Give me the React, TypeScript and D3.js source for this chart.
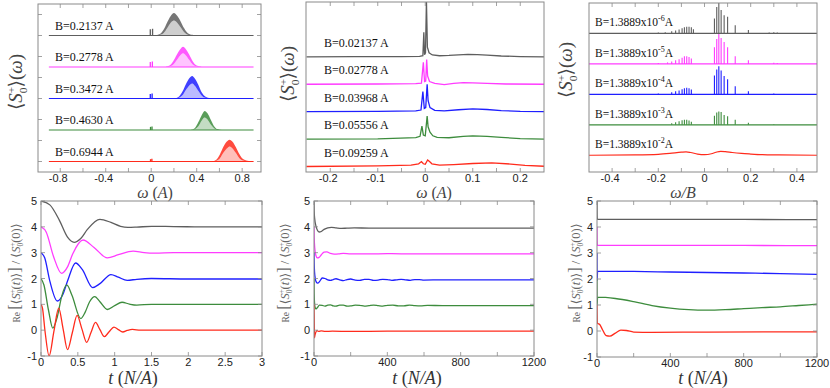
import * as d3 from "d3";

const COLORS = ["#5e5e5e", "#ff3cff", "#1f1fff", "#3d8c3d", "#ff2b1c"];
const FRAME = "#8a8a8a";
const SANS = "'Liberation Sans', Arial, sans-serif";
const SERIF = "'Liberation Serif', 'DejaVu Serif', serif";

// ---- top left: spectra, B of order A
const labelsA = ["B=0.2137 A", "B=0.2778 A", "B=0.3472 A", "B=0.4630 A", "B=0.6944 A"];
const offsetsA = [6, 4.5, 3, 1.5, 0];
const spanA = [-0.9, 0.9];
const spikesA = [
  [[-0.008, 0.3], [0.012, 0.32]],
  [[-0.008, 0.24], [0.01, 0.26]],
  [[-0.008, 0.22], [0.008, 0.24]],
  [[-0.006, 0.15], [0.007, 0.17]],
  [[-0.006, 0.11], [0.006, 0.13]],
];
// [omega, lower envelope, upper envelope]
const bandsA = [
  [[0.04, 0, 0.01], [0.08, 0.03, 0.08], [0.11, 0.12, 0.28], [0.14, 0.35, 0.62], [0.17, 0.6, 0.92], [0.2, 0.72, 1.07], [0.23, 0.6, 0.93], [0.26, 0.38, 0.66], [0.29, 0.15, 0.34], [0.32, 0.04, 0.12], [0.36, 0, 0.03], [0.41, 0, 0]],
  [[0.13, 0, 0.01], [0.165, 0.03, 0.08], [0.195, 0.12, 0.28], [0.225, 0.33, 0.58], [0.255, 0.55, 0.84], [0.28, 0.66, 0.96], [0.305, 0.55, 0.85], [0.335, 0.33, 0.58], [0.365, 0.12, 0.27], [0.395, 0.03, 0.08], [0.44, 0, 0.01]],
  [[0.21, 0, 0.01], [0.245, 0.04, 0.1], [0.275, 0.15, 0.33], [0.305, 0.4, 0.68], [0.335, 0.62, 0.96], [0.36, 0.72, 1.07], [0.385, 0.6, 0.94], [0.415, 0.36, 0.64], [0.445, 0.13, 0.28], [0.475, 0.03, 0.09], [0.52, 0, 0.01]],
  [[0.35, 0, 0.01], [0.385, 0.04, 0.1], [0.415, 0.18, 0.38], [0.445, 0.45, 0.72], [0.47, 0.6, 0.91], [0.495, 0.5, 0.8], [0.525, 0.25, 0.48], [0.555, 0.07, 0.17], [0.585, 0, 0.03], [0.62, 0, 0]],
  [[0.54, 0, 0.01], [0.575, 0.04, 0.1], [0.605, 0.16, 0.35], [0.635, 0.42, 0.7], [0.665, 0.62, 0.95], [0.69, 0.72, 1.04], [0.715, 0.62, 0.94], [0.745, 0.4, 0.68], [0.775, 0.16, 0.36], [0.805, 0.05, 0.13], [0.845, 0.01, 0.04], [0.9, 0, 0.01]],
];
const xTicksA = [-0.8, -0.4, 0, 0.4, 0.8];
const xTickLabelsA = ["-0.8", "-0.4", "0", "0.4", "0.8"];
const xMinorA = [-0.8, -0.6, -0.4, -0.2, 0, 0.2, 0.4, 0.6, 0.8];
const yMinorA = [0, 1, 2, 3, 4, 5, 6, 7];

// ---- top middle: spectra, small B
const labelsB = ["B=0.02137 A", "B=0.02778 A", "B=0.03968 A", "B=0.05556 A", "B=0.09259 A"];
const offsetsB = [4, 3, 2, 1, 0];
const linesB = [
  [[-0.25, 0], [-0.15, 0.005], [-0.05, 0.01], [-0.012, 0.02], [-0.005, 0.04], [-0.003, 0.9], [-0.0015, 0.08], [0.0005, 0.15], [0.0025, 2.05], [0.0045, 0.35], [0.008, 0.15], [0.015, 0.07], [0.03, 0.04], [0.05, 0.05], [0.07, 0.07], [0.09, 0.09], [0.11, 0.08], [0.13, 0.06], [0.16, 0.03], [0.2, 0.01], [0.25, 0]],
  [[-0.25, 0], [-0.1, 0.01], [-0.02, 0.02], [-0.008, 0.04], [-0.004, 0.8], [-0.0015, 0.1], [0.001, 0.12], [0.003, 0.9], [0.005, 0.3], [0.009, 0.1], [0.02, 0.03], [0.04, -0.01], [0.06, 0.03], [0.08, 0.06], [0.1, 0.05], [0.13, 0.03], [0.17, 0.01], [0.25, 0]],
  [[-0.25, 0], [-0.1, 0.01], [-0.02, 0.03], [-0.009, 0.06], [-0.005, 0.73], [-0.002, 0.12], [0.001, 0.15], [0.004, 1.0], [0.006, 0.4], [0.01, 0.15], [0.02, 0.05], [0.04, 0.03], [0.07, 0.07], [0.1, 0.1], [0.13, 0.08], [0.16, 0.04], [0.2, 0.01], [0.25, 0]],
  [[-0.25, 0], [-0.1, 0.01], [-0.02, 0.05], [-0.011, 0.1], [-0.007, 0.47], [-0.004, 0.15], [0.0, 0.12], [0.004, 0.84], [0.006, 0.45], [0.01, 0.25], [0.016, 0.12], [0.025, 0.06], [0.05, 0.05], [0.08, 0.1], [0.1, 0.12], [0.13, 0.1], [0.16, 0.06], [0.2, 0.02], [0.25, 0]],
  [[-0.25, 0], [-0.1, 0.02], [-0.03, 0.05], [-0.014, 0.1], [-0.008, 0.18], [-0.004, 0.1], [0.0, 0.08], [0.005, 0.24], [0.009, 0.18], [0.014, 0.1], [0.03, 0.05], [0.06, 0.07], [0.1, 0.11], [0.14, 0.13], [0.18, 0.09], [0.21, 0.04], [0.25, 0.01]],
];
const xTicksB = [-0.2, -0.1, 0, 0.1, 0.2];
const xTickLabelsB = ["-0.2", "-0.1", "0", "0.1", "0.2"];
const xMinorB = [-0.2, -0.15, -0.1, -0.05, 0, 0.05, 0.1, 0.15, 0.2];

// ---- top right: spectra vs omega/B, tiny B
const labelsC = ["1.3889x10", "1.3889x10", "1.3889x10", "1.3889x10", "1.3889x10"];
const expC = ["-6", "-5", "-4", "-3", "-2"];
const offsetsC = [4, 3, 2, 1, 0];
const floorC = [
  [[-0.5, 0], [0.5, 0]],
  [[-0.5, 0], [0.5, 0]],
  [[-0.5, 0], [0.5, 0]],
  [[-0.5, 0], [0.5, 0]],
  [[-0.5, 0], [-0.3, 0.01], [-0.2, 0.03], [-0.15, 0.06], [-0.1, 0.1], [-0.08, 0.11], [-0.06, 0.09], [-0.03, 0.04], [0, 0.02], [0.03, 0.05], [0.05, 0.1], [0.07, 0.13], [0.09, 0.12], [0.12, 0.09], [0.16, 0.06], [0.2, 0.04], [0.25, 0.02], [0.32, 0.01], [0.5, 0]],
];
const spikesC = [
  [[-0.2, 0.03], [-0.17, 0.04], [-0.142, 0.07], [-0.125, 0.1], [-0.11, 0.13], [-0.097, 0.17], [-0.087, 0.2], [-0.077, 0.22], [-0.067, 0.22], [-0.057, 0.2], [-0.048, 0.14], [0.043, 0.49], [0.053, 0.87], [0.062, 1.0], [0.072, 0.77], [0.085, 0.6], [0.1, 0.55], [0.133, 0.27], [0.19, 0.11], [0.28, 0.03], [0.3, 0.04], [0.315, 0.03]],
  [[-0.2, 0.03], [-0.16, 0.05], [-0.142, 0.08], [-0.125, 0.12], [-0.11, 0.15], [-0.097, 0.2], [-0.087, 0.25], [-0.077, 0.25], [-0.067, 0.23], [-0.057, 0.18], [0.043, 0.55], [0.053, 0.82], [0.062, 0.98], [0.072, 0.85], [0.085, 0.72], [0.1, 0.55], [0.133, 0.25], [0.19, 0.12], [0.3, 0.04], [0.315, 0.03]],
  [[-0.2, 0.03], [-0.142, 0.07], [-0.125, 0.1], [-0.11, 0.13], [-0.097, 0.17], [-0.087, 0.2], [-0.077, 0.22], [-0.067, 0.2], [-0.057, 0.16], [0.043, 0.62], [0.053, 0.82], [0.062, 0.92], [0.072, 0.78], [0.085, 0.6], [0.1, 0.5], [0.133, 0.27], [0.19, 0.1], [0.3, 0.03]],
  [[-0.142, 0.05], [-0.125, 0.08], [-0.11, 0.12], [-0.097, 0.15], [-0.087, 0.17], [-0.077, 0.17], [-0.067, 0.14], [-0.057, 0.1], [0.043, 0.3], [0.053, 0.4], [0.062, 0.44], [0.072, 0.42], [0.085, 0.32], [0.1, 0.28], [0.133, 0.17], [0.19, 0.07], [0.3, 0.02]],
  [],
];
const xTicksC = [-0.4, -0.2, 0, 0.2, 0.4];
const xTickLabelsC = ["-0.4", "-0.2", "0", "0.2", "0.4"];
const xMinorC = [-0.4, -0.3, -0.2, -0.1, 0, 0.1, 0.2, 0.3, 0.4];

// ---- bottom: time evolution, curves already shifted by 4,3,2,1,0
const yTicksT = [-1, 0, 1, 2, 3, 4, 5];
const yTickLabelsT = ["-1", "0", "1", "2", "3", "4", "5"];

const curvesD = [
  [[0, 5], [0.12, 4.85], [0.25, 4.25], [0.36, 3.6], [0.45, 3.4], [0.54, 3.55], [0.63, 3.9], [0.8, 4.29], [0.95, 4.17], [1.08, 4.02], [1.18, 3.98], [1.3, 3.99], [1.5, 4.02], [1.8, 4.01], [2.2, 4.0], [3, 4.0]],
  [[0, 4], [0.07, 3.8], [0.17, 2.85], [0.28, 2.2], [0.36, 2.45], [0.43, 2.95], [0.57, 3.49], [0.72, 3.2], [0.9, 2.8], [1.05, 2.92], [1.25, 3.06], [1.4, 3.0], [1.55, 2.98], [1.8, 3.0], [3, 3.0]],
  [[0, 3], [0.05, 2.8], [0.12, 1.9], [0.22, 1.13], [0.3, 1.4], [0.36, 1.9], [0.47, 2.6], [0.56, 2.35], [0.7, 1.65], [0.8, 1.8], [0.95, 2.15], [1.05, 2.05], [1.17, 1.93], [1.3, 1.97], [1.5, 2.0], [2, 1.98], [3, 1.98]],
  [[0, 2], [0.04, 1.75], [0.1, 0.8], [0.16, 0.08], [0.22, 0.5], [0.28, 1.3], [0.35, 1.75], [0.42, 1.35], [0.54, 0.45], [0.6, 0.7], [0.66, 1.1], [0.73, 1.3], [0.8, 1.1], [0.9, 0.8], [1.0, 0.95], [1.1, 1.08], [1.2, 1.01], [1.3, 0.97], [1.5, 1.0], [3, 1.0]],
  [[0, 1], [0.02, 0.85], [0.055, -0.05], [0.11, -1], [0.175, -0.05], [0.24, 0.85], [0.3, 0.05], [0.36, -0.75], [0.425, -0.1], [0.49, 0.57], [0.555, 0.05], [0.62, -0.47], [0.68, -0.08], [0.74, 0.3], [0.8, 0.02], [0.86, -0.25], [0.925, -0.06], [0.99, 0.12], [1.05, 0.02], [1.11, -0.07], [1.17, -0.01], [1.24, 0.03], [1.35, 0], [1.5, 0], [3, 0]],
];
const xTicksD = [0, 0.5, 1, 1.5, 2, 2.5, 3];
const xTickLabelsD = ["0", "0.5", "1", "1.5", "2", "2.5", "3"];

const curvesE = [
  [[0, 5], [1, 4.6], [4, 4.3], [10, 4.05], [18, 3.88], [28, 3.8], [40, 3.82], [55, 3.9], [75, 3.96], [95, 3.98], [120, 3.96], [150, 3.94], [180, 3.95], [220, 3.96], [300, 3.95], [500, 3.95], [800, 3.95], [1200, 3.95]],
  [[0, 4], [1, 3.6], [4, 3.2], [10, 2.9], [18, 2.8], [28, 2.82], [40, 2.92], [55, 3.02], [70, 3.03], [90, 2.97], [110, 2.94], [135, 2.95], [160, 2.97], [200, 2.95], [300, 2.95], [400, 2.96], [600, 2.95], [800, 2.95], [1200, 2.95]],
  [[0, 3], [1, 2.6], [3, 2.25], [7, 2.0], [12, 1.87], [20, 1.82], [30, 1.88], [45, 2.02], [60, 2.0], [75, 1.95], [90, 1.93], [105, 1.96], [120, 1.99], [140, 1.95], [160, 1.92], [180, 1.96], [200, 1.98], [225, 1.94], [250, 1.93], [275, 1.97], [300, 1.97], [325, 1.93], [350, 1.94], [375, 1.97], [400, 1.96], [425, 1.93], [450, 1.95], [475, 1.97], [500, 1.95], [525, 1.93], [550, 1.96], [575, 1.96], [600, 1.94], [700, 1.95], [800, 1.95], [1000, 1.95], [1200, 1.95]],
  [[0, 2], [1, 1.4], [3, 1.05], [6, 0.88], [11, 0.82], [18, 0.87], [30, 0.97], [45, 0.96], [60, 0.93], [75, 0.97], [90, 0.98], [105, 0.94], [120, 0.93], [140, 0.97], [160, 0.97], [180, 0.93], [200, 0.94], [225, 0.97], [250, 0.96], [275, 0.93], [300, 0.95], [325, 0.97], [350, 0.95], [375, 0.93], [400, 0.96], [430, 0.97], [460, 0.94], [490, 0.94], [520, 0.97], [550, 0.95], [580, 0.94], [620, 0.96], [700, 0.95], [800, 0.95], [1000, 0.95], [1200, 0.95]],
  [[0, 1], [1, 0.6], [2.5, -0.3], [5, -0.2], [9, -0.1], [15, -0.02], [25, -0.05], [40, -0.03], [60, -0.05], [100, -0.04], [200, -0.05], [400, -0.04], [800, -0.04], [1200, -0.04]],
];
const curvesF = [
  [[0, 5], [1, 4.4], [3, 4.29], [400, 4.29], [800, 4.29], [1200, 4.28]],
  [[0, 4], [1, 3.4], [3, 3.29], [400, 3.29], [800, 3.29], [1200, 3.28]],
  [[0, 3], [1, 1.95], [3, 2.3], [200, 2.29], [400, 2.27], [600, 2.25], [800, 2.23], [1000, 2.21], [1200, 2.18]],
  [[0, 2], [1, 1.0], [3, 1.3], [100, 1.25], [200, 1.13], [300, 0.98], [400, 0.88], [500, 0.82], [600, 0.8], [700, 0.82], [800, 0.86], [900, 0.9], [1000, 0.93], [1100, 0.98], [1200, 1.03]],
  [[0, 1], [2, 0.3], [15, 0.25], [30, 0.05], [50, -0.18], [70, -0.2], [100, -0.08], [130, 0.03], [160, 0.02], [200, -0.04], [300, -0.05], [600, -0.04], [1200, -0.03]],
];
const xTicksEF = [0, 400, 800, 1200];
const xTickLabelsEF = ["0", "400", "800", "1200"];
const xMinorEF = [0, 200, 400, 600, 800, 1000, 1200];

type Box = { l: number; r: number; t: number; b: number };

function Frame({ id, box, x, y, xMinor, xTicks, xLabels, yMinor, yTicks, yLabels, labelDy = 10, children }: any) {
  const tl = 4;
  return (
    <g>
      <defs>
        <clipPath id={id}>
          <rect x={box.l} y={box.t} width={box.r - box.l} height={box.b - box.t} />
        </clipPath>
      </defs>
      <g clipPath={`url(#${id})`}>{children}</g>
      {(xMinor || []).map((v: number) => (
        <g key={"xm" + v} stroke={FRAME} strokeWidth={0.8}>
          <line x1={x(v)} x2={x(v)} y1={box.b} y2={box.b - tl} />
          <line x1={x(v)} x2={x(v)} y1={box.t} y2={box.t + tl} />
        </g>
      ))}
      {(yMinor || []).map((v: number) => (
        <g key={"ym" + v} stroke={FRAME} strokeWidth={0.8}>
          <line x1={box.l} x2={box.l + tl} y1={y(v)} y2={y(v)} />
          <line x1={box.r} x2={box.r - tl} y1={y(v)} y2={y(v)} />
        </g>
      ))}
      <rect x={box.l} y={box.t} width={box.r - box.l} height={box.b - box.t} fill="none" stroke={FRAME} strokeWidth={1} />
      {xTicks.map((v: number, i: number) => (
        <text key={"xt" + i} x={x(v) - (xLabels[i].startsWith("-") ? 2 : 0)} y={box.b + labelDy} textAnchor="middle" fontFamily={SANS} fontSize={11} fill="#222">
          {xLabels[i]}
        </text>
      ))}
      {(yTicks || []).map((v: number, i: number) => (
        <text key={"yt" + i} x={box.l - 4} y={y(v) + 4} textAnchor="end" fontFamily={SANS} fontSize={11} fill="#222">
          {yLabels[i]}
        </text>
      ))}
    </g>
  );
}

function StackS({ s }: { s: number }) {
  return [
    <tspan key="a" fontStyle="italic">S</tspan>,
    <tspan key="b" fontSize={s * 0.6} dy={-s * 0.38}>+</tspan>,
    <tspan key="c" fontSize={s * 0.6} dx={-s * 0.34} dy={s * 0.62}>0</tspan>,
  ];
}

function SpecLabel({ cx, cy }: { cx: number; cy: number }) {
  const s = 19;
  return (
    <text transform={`translate(${cx + 6},${cy}) rotate(-90)`} textAnchor="middle" fontFamily={SERIF} fontSize={s} fill="#444">
      <tspan>⟨</tspan>
      {StackS({ s })}
      <tspan dy={-s * 0.24}>⟩(</tspan>
      <tspan fontStyle="italic">ω</tspan>
      <tspan>)</tspan>
    </text>
  );
}

function ReLabel({ cx, cy }: { cx: number; cy: number }) {
  const s = 12.5;
  return (
    <text transform={`translate(${cx + 4},${cy}) rotate(-90)`} textAnchor="middle" fontFamily={SERIF} fontSize={s} fill="#666">
      <tspan fontSize={9.5}>Re </tspan>
      <tspan fontSize={16}>[</tspan>
      <tspan>⟨</tspan>
      {StackS({ s })}
      <tspan dy={-s * 0.24}>(</tspan>
      <tspan fontStyle="italic">t</tspan>
      <tspan>)⟩</tspan>
      <tspan fontSize={16}>]</tspan>
      <tspan> / ⟨</tspan>
      {StackS({ s })}
      <tspan dy={-s * 0.24}>(0)⟩</tspan>
    </text>
  );
}

function OmegaLabel({ cx, y, over }: { cx: number; y: number; over?: boolean }) {
  return (
    <text x={cx} y={y} textAnchor="middle" fontFamily={SERIF} fontSize={16} fill="#444">
      {over ? (
        <tspan fontStyle="italic">ω/B</tspan>
      ) : (
        [
          <tspan key="w" fontStyle="italic">ω </tspan>,
          <tspan key="p">(</tspan>,
          <tspan key="a" fontStyle="italic">A</tspan>,
          <tspan key="q">)</tspan>,
        ]
      )}
    </text>
  );
}

function TimeLabel({ cx, y }: { cx: number; y: number }) {
  return (
    <text x={cx} y={y} textAnchor="middle" fontFamily={SERIF} fontSize={18} fill="#333">
      <tspan fontStyle="italic">t</tspan>
      <tspan>{"  ("}</tspan>
      <tspan fontStyle="italic">N/A</tspan>
      <tspan>)</tspan>
    </text>
  );
}

function PanelA() {
  const box: Box = { l: 38, r: 261, t: 4, b: 172 };
  const x = d3.scaleLinear().domain([-1, 0.97]).range([37.5, 261.5]);
  const y = d3.scaleLinear().domain([-0.5, 7.5]).range([box.b, box.t]);
  return (
    <g>
      <Frame id="cA" box={box} x={x} y={y} xMinor={xMinorA} xTicks={xTicksA} xLabels={xTickLabelsA} yMinor={yMinorA}>
        {labelsA.map((lab, i) => {
          const off = offsetsA[i];
          const c = COLORS[i];
          const under = d3.area<number[]>().x((d) => x(d[0])).y0(y(off)).y1((d) => y(off + d[1])).curve(d3.curveMonotoneX);
          const top = d3.area<number[]>().x((d) => x(d[0])).y0((d) => y(off + d[1])).y1((d) => y(off + d[2])).curve(d3.curveMonotoneX);
          return (
            <g key={i}>
              <line x1={x(spanA[0])} x2={x(spanA[1])} y1={y(off)} y2={y(off)} stroke={c} strokeWidth={1.2} />
              {spikesA[i].map((s, j) => (
                <line key={j} x1={x(s[0])} x2={x(s[0])} y1={y(off)} y2={y(off + s[1])} stroke={c} strokeWidth={1.3} />
              ))}
              <path d={under(bandsA[i]) || ""} fill={c} opacity={0.3} />
              <path d={top(bandsA[i]) || ""} fill={c} opacity={0.85} />
              <text x={55} y={y(off) - 6} fontFamily={SERIF} fontSize={12} fill="#111">{lab}</text>
            </g>
          );
        })}
      </Frame>
      <SpecLabel cx={16} cy={82} />
      <OmegaLabel cx={155} y={198} />
    </g>
  );
}

function PanelB() {
  const box: Box = { l: 306, r: 544, t: 2, b: 172 };
  const x = d3.scaleLinear().domain([-0.25, 0.25]).range([306.5, 544]);
  const y = d3.scaleLinear().domain([-0.2, 6.0]).range([box.b, box.t]);
  return (
    <g>
      <Frame id="cB" box={box} x={x} y={y} xMinor={xMinorB} xTicks={xTicksB} xLabels={xTickLabelsB}>
        {labelsB.map((lab, i) => {
          const off = offsetsB[i];
          const line = d3.line<number[]>().x((d) => x(d[0])).y((d) => y(off + d[1]));
          return (
            <g key={i}>
              <path d={line(linesB[i]) || ""} fill="none" stroke={COLORS[i]} strokeWidth={1.3} />
              <text x={324} y={y(off) - 10} fontFamily={SERIF} fontSize={12} fill="#111">{lab}</text>
            </g>
          );
        })}
      </Frame>
      <SpecLabel cx={288} cy={74} />
      <OmegaLabel cx={434} y={198} />
    </g>
  );
}

function PanelC() {
  const box: Box = { l: 589, r: 817, t: 3, b: 172 };
  const x = d3.scaleLinear().domain([-0.5, 0.487]).range([589, 817]);
  const y = d3.scaleLinear().domain([-0.55, 5.0]).range([box.b, box.t]);
  return (
    <g>
      <Frame id="cC" box={box} x={x} y={y} xMinor={xMinorC} xTicks={xTicksC} xLabels={xTickLabelsC}>
        {labelsC.map((lab, i) => {
          const off = offsetsC[i];
          const c = COLORS[i];
          const line = d3.line<number[]>().x((d) => x(d[0])).y((d) => y(off + d[1])).curve(d3.curveMonotoneX);
          return (
            <g key={i}>
              <path d={line(floorC[i]) || ""} fill="none" stroke={c} strokeWidth={1.2} />
              {spikesC[i].map((s, j) => (
                <line key={j} x1={x(s[0])} x2={x(s[0])} y1={y(off)} y2={y(off + s[1])} stroke={c} strokeWidth={1.1} />
              ))}
              <text x={595} y={y(off) - 7} fontFamily={SERIF} fontSize={11.5} fill="#111">
                <tspan>B={lab}</tspan>
                <tspan fontSize={8} dy={-5}>{expC[i]}</tspan>
                <tspan dy={5}>A</tspan>
              </text>
            </g>
          );
        })}
      </Frame>
      <SpecLabel cx={566} cy={70} />
      <OmegaLabel cx={683} y={198} over />
    </g>
  );
}

function TimePanel({ id, box, domain, curves, xTicks, xLabels, xMinor, labelX, yLabelX }: any) {
  const x = d3.scaleLinear().domain(domain).range([box.l, box.r]);
  const y = d3.scaleLinear().domain([-1, 5]).range([box.b, box.t]);
  const line = d3.line<number[]>().x((d) => x(d[0])).y((d) => y(d[1])).curve(d3.curveMonotoneX);
  return (
    <g>
      <Frame id={id} box={box} x={x} y={y} xMinor={xMinor} xTicks={xTicks} xLabels={xLabels} yMinor={yTicksT} yTicks={yTicksT} yLabels={yTickLabelsT}>
        {curves.map((c: number[][], i: number) => (
          <path key={i} d={line(c) || ""} fill="none" stroke={COLORS[i]} strokeWidth={1.3} />
        ))}
      </Frame>
      <ReLabel cx={yLabelX} cy={273} />
      <TimeLabel cx={labelX} y={384} />
    </g>
  );
}

export default function App() {
  return (
    <svg width={830} height={388} style={{ position: "absolute", left: 0, top: 0, background: "#fff" }}>
      <rect width={830} height={388} fill="#fff" />
      <PanelA />
      <PanelB />
      <PanelC />
      <TimePanel id="cD" box={{ l: 41, r: 262, t: 201, b: 356 }} domain={[0, 3]} curves={curvesD} xTicks={xTicksD} xLabels={xTickLabelsD} xMinor={xTicksD} labelX={133} yLabelX={16} />
      <TimePanel id="cE" box={{ l: 314, r: 534, t: 201, b: 356 }} domain={[0, 1200]} curves={curvesE} xTicks={xTicksEF} xLabels={xTickLabelsEF} xMinor={xMinorEF} labelX={417} yLabelX={285} />
      <TimePanel id="cF" box={{ l: 597, r: 817, t: 201, b: 357 }} domain={[0, 1200]} curves={curvesF} xTicks={xTicksEF} xLabels={xTickLabelsEF} xMinor={xMinorEF} labelX={703} yLabelX={576} />
    </svg>
  );
}
